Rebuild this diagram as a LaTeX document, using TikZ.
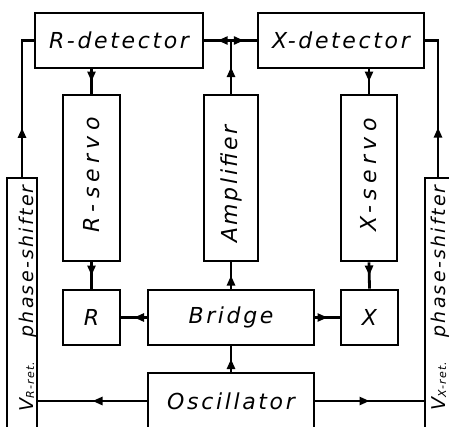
\documentclass[tikz,border=0pt]{standalone}
\usepackage{fontspec}
\setmainfont{DejaVu Sans}
\newfontfamily\labfont[LetterSpace=12]{DejaVu Sans}
\usetikzlibrary{arrows.meta,decorations.markings}
\begin{document}
\begin{tikzpicture}[x=1pt,y=-1pt,
  lab/.style={inner sep=0pt, font=\labfont\itshape\fontsize{22}{26}\selectfont},
  widelab/.style={inner sep=0pt, font=\labfont\itshape\fontsize{22}{26}\selectfont\addfontfeature{LetterSpace=24}},
  smalllab/.style={inner sep=0pt, font=\labfont\itshape\fontsize{19}{22}\selectfont},
  box/.style={draw, line width=2.8pt, inner sep=0pt, lab},
  wire/.style={line width=2.8pt},
  midarrow/.style={postaction={decorate,decoration={markings,mark=at position #1 with {\arrow{Triangle[length=10pt,width=8pt]}}}}},
  midarrow/.default=0.5]
\useasboundingbox (0,0) rectangle (449,426);
\clip (0,0) rectangle (449,426);
% boxes
\node[box, minimum width=168pt, minimum height=55pt] (rdet) at (119,40.5) {R-detector};
\node[box, minimum width=166pt, minimum height=55pt] (xdet) at (341,40.5) {X-detector};
\node[box, minimum width=57pt, minimum height=166pt] (rservo) at (91.5,178) {};
\node[box, minimum width=54pt, minimum height=166pt] (amp) at (231,178) {};
\node[box, minimum width=56pt, minimum height=166pt] (xservo) at (369,178) {};
\node[box, minimum width=57pt, minimum height=55pt] (rb) at (91.5,317.5) {R};
\node[box, minimum width=166pt, minimum height=55pt] (bridge) at (231,317.5) {Bridge};
\node[box, minimum width=57pt, minimum height=55pt] (xb) at (369.5,317.5) {X};
\node[box, minimum width=166pt, minimum height=56pt] (osc) at (231,401) {Oscillator};
\node[draw, line width=2.8pt, inner sep=0pt, minimum width=30pt, minimum height=262pt] (psl) at (22,309) {};
\node[draw, line width=2.8pt, inner sep=0pt, minimum width=26pt, minimum height=262pt] (psr) at (438,309) {};
% rotated labels
\node[widelab, rotate=90] (rservot) at (91.5,175) {R-servo};
\node[lab, rotate=90] (ampt) at (231,184) {Amplifier};
\node[widelab, rotate=90] (xservot) at (369,175) {X-servo};
\node[smalllab, rotate=90, anchor=base east] (pslt) at (33,185) {V\raisebox{-1pt}{\fontsize{11}{11}\selectfont R-ret.}\hspace{24pt}phase-shifter};
\node[smalllab, rotate=90, anchor=base east] (psrt) at (445,185) {V\raisebox{-1pt}{\fontsize{11}{11}\selectfont X-ret.}\hspace{24pt}phase-shifter};
% connectors
\coordinate (jn) at (amp.north |- rdet.east);
\draw[wire, midarrow] (amp.north) -- (jn);
\draw[wire, midarrow] (jn) -- (rdet.east);
\draw[wire, midarrow] (jn) -- (xdet.west);
\draw[wire, midarrow] (rservo.north |- rdet.south) -- (rservo.north);
\draw[wire, midarrow] (xservo.north |- xdet.south) -- (xservo.north);
\draw[wire, midarrow] (rservo.south) -- (rb.north);
\draw[wire, midarrow] (xservo.south) -- (xb.north);
\draw[wire, midarrow] (bridge.west) -- (rb.east);
\draw[wire, midarrow] (bridge.east) -- (xb.west);
\draw[wire, midarrow] (bridge.north) -- (amp.south);
\draw[wire, midarrow] (osc.north) -- (bridge.south);
\draw[wire, midarrow] (osc.west) -- (osc.west -| psl.east);
\draw[wire, midarrow] (osc.east) -- (osc.east -| psr.west);
\draw[wire, midarrow=0.33] (psl.north) |- (rdet.west);
\draw[wire, midarrow=0.33] (psr.north) |- (xdet.east);
\end{tikzpicture}
\end{document}
